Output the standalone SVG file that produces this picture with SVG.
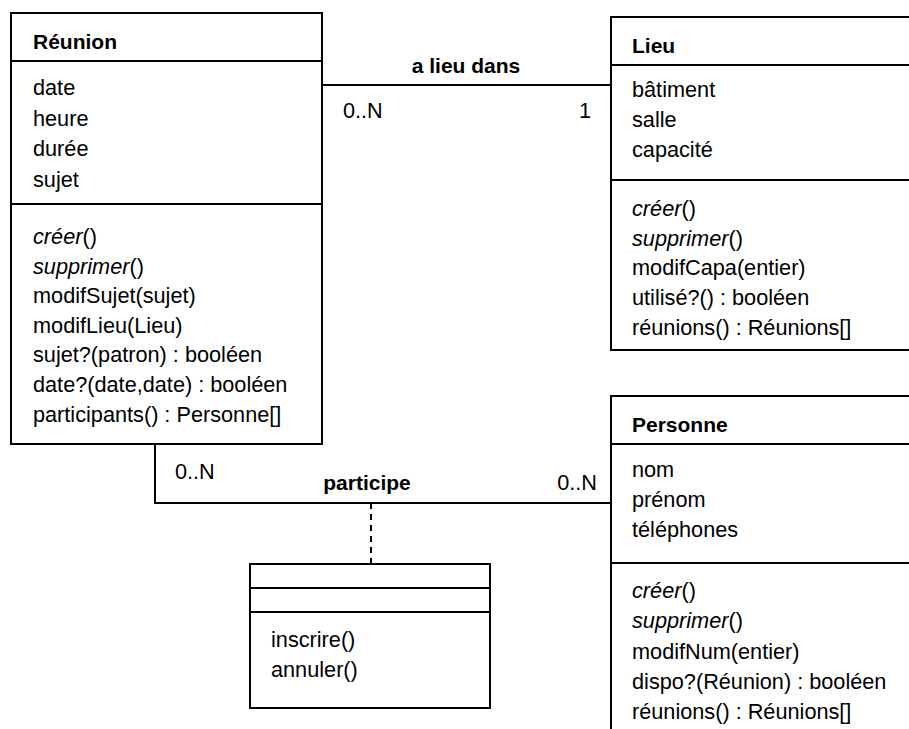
<svg xmlns="http://www.w3.org/2000/svg" width="909" height="729" viewBox="0 0 909 729">
<style>
.box{fill:#fff;stroke:#000;stroke-width:2}
.sep{stroke:#000;stroke-width:2}
.t{font-family:"Liberation Sans",Arial,sans-serif;font-size:21.7px;fill:#000}
.b{font-weight:bold;font-size:21px}
.i{font-style:italic}
.conn{fill:none;stroke:#000;stroke-width:2}
.dash{fill:none;stroke:#000;stroke-width:2;stroke-dasharray:6 5}
</style>
<rect width="909" height="729" fill="#fff"/>
<g id="connectors">
<line class="conn" x1="322" y1="85" x2="611" y2="85"/>
<path class="conn" d="M155,444 V503 H611"/>
<line class="dash" x1="371" y1="503" x2="371" y2="564"/>
<text class="t b" x="466" y="73" text-anchor="middle">a lieu dans</text>
<text class="t" x="343" y="118">0..N</text>
<text class="t" x="591" y="118" text-anchor="end">1</text>
<text class="t" x="175" y="479">0..N</text>
<text class="t b" x="367" y="490" text-anchor="middle">participe</text>
<text class="t" x="597" y="490" text-anchor="end">0..N</text>
</g>
<g id="reunion">
<rect class="box" x="11" y="13" width="311" height="431"/>
<line class="sep" x1="11" y1="61" x2="322" y2="61"/>
<line class="sep" x1="11" y1="204" x2="322" y2="204"/>
<text class="t b" x="33" y="49">Réunion</text>
<text class="t" x="33" y="95">date</text>
<text class="t" x="33" y="126">heure</text>
<text class="t" x="33" y="156">durée</text>
<text class="t" x="33" y="187">sujet</text>
<text class="t" x="33" y="244"><tspan class="i">créer</tspan>()</text>
<text class="t" x="33" y="274"><tspan class="i">supprimer</tspan>()</text>
<text class="t" x="33" y="303">modifSujet(sujet)</text>
<text class="t" x="33" y="333">modifLieu(Lieu)</text>
<text class="t" x="33" y="362">sujet?(patron) : booléen</text>
<text class="t" x="33" y="392">date?(date,date) : booléen</text>
<text class="t" x="33" y="422">participants() : Personne[]</text>
</g>
<g id="lieu">
<rect class="box" x="611" y="17" width="310" height="333"/>
<line class="sep" x1="611" y1="65" x2="921" y2="65"/>
<line class="sep" x1="611" y1="180" x2="921" y2="180"/>
<text class="t b" x="632" y="53">Lieu</text>
<text class="t" x="632" y="97">bâtiment</text>
<text class="t" x="632" y="127">salle</text>
<text class="t" x="632" y="157">capacité</text>
<text class="t" x="632" y="216"><tspan class="i">créer</tspan>()</text>
<text class="t" x="632" y="246"><tspan class="i">supprimer</tspan>()</text>
<text class="t" x="632" y="275">modifCapa(entier)</text>
<text class="t" x="632" y="305">utilisé?() : booléen</text>
<text class="t" x="632" y="335">réunions() : Réunions[]</text>
</g>
<g id="personne">
<rect class="box" x="611" y="396" width="310" height="350"/>
<line class="sep" x1="611" y1="444" x2="921" y2="444"/>
<line class="sep" x1="611" y1="563" x2="921" y2="563"/>
<text class="t b" x="632" y="432">Personne</text>
<text class="t" x="632" y="477">nom</text>
<text class="t" x="632" y="507">prénom</text>
<text class="t" x="632" y="537">téléphones</text>
<text class="t" x="632" y="598"><tspan class="i">créer</tspan>()</text>
<text class="t" x="632" y="628"><tspan class="i">supprimer</tspan>()</text>
<text class="t" x="632" y="659">modifNum(entier)</text>
<text class="t" x="632" y="689">dispo?(Réunion) : booléen</text>
<text class="t" x="632" y="719">réunions() : Réunions[]</text>
</g>
<g id="participation">
<rect class="box" x="250" y="564" width="240" height="144"/>
<line class="sep" x1="250" y1="588" x2="490" y2="588"/>
<line class="sep" x1="250" y1="612" x2="490" y2="612"/>
<text class="t" x="271" y="647">inscrire()</text>
<text class="t" x="271" y="677">annuler()</text>
</g>
</svg>
